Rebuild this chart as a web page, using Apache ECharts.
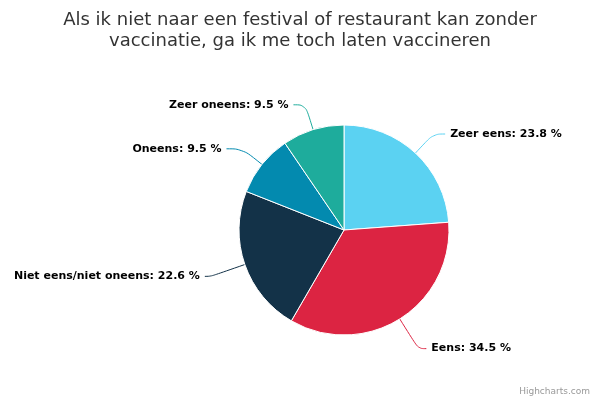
<!DOCTYPE html>
<html>
<head>
<meta charset="utf-8">
<script src="https://cdn.jsdelivr.net/npm/echarts@6/dist/echarts.min.js"></script>
<style>html,body{margin:0;padding:0;background:#fff}#c{width:600px;height:400px}</style>
</head>
<body>
<div id="c"></div>
<script>
var categories = ['Zeer eens', 'Eens', 'Niet eens/niet oneens', 'Oneens', 'Zeer oneens'];
var values = [23.8, 34.5, 22.6, 9.5, 9.5];
var colors = ['#5BD2F2', '#DC2442', '#133248', '#038AAF', '#1EAC9C'];
var lineLen = [26, 35, 36, 25, 26];
var lineLen2 = [12, 8, 6, 16, 12];

var chart = echarts.init(document.getElementById('c'));
chart.setOption({
  animation: false,
  title: {
    text: 'Als ik niet naar een festival of restaurant kan zonder\nvaccinatie, ga ik me toch laten vaccineren',
    left: 'center',
    top: 5,
    textStyle: { fontFamily: 'DejaVu Sans', fontSize: 18, fontWeight: 'normal', color: '#333333', lineHeight: 21 }
  },
  graphic: [{
    type: 'text', right: 10, bottom: 4,
    style: { text: 'Highcharts.com', fontFamily: 'DejaVu Sans', fontSize: 9, fill: '#999999' }
  }],
  series: [{
    type: 'pie',
    center: [344, 230],
    radius: 105,
    startAngle: 90,
    clockwise: true,
    data: categories.map(function (c, i) {
      return {
        name: c, value: values[i], itemStyle: { color: colors[i] },
        labelLine: { length: lineLen[i], length2: lineLen2[i] }
      };
    }),
    itemStyle: { borderColor: '#ffffff', borderWidth: 1 },
    label: {
      formatter: function (p) { return p.name + ': ' + p.value.toFixed(1) + ' %'; },
      fontFamily: 'DejaVu Sans', fontSize: 11, fontWeight: 'bold', color: '#000000'
    },
    labelLine: {
      show: true, length: 22, length2: 12, smooth: 0.4,
      lineStyle: { width: 1 }
    }
  }]
});
</script>
</body>
</html>
